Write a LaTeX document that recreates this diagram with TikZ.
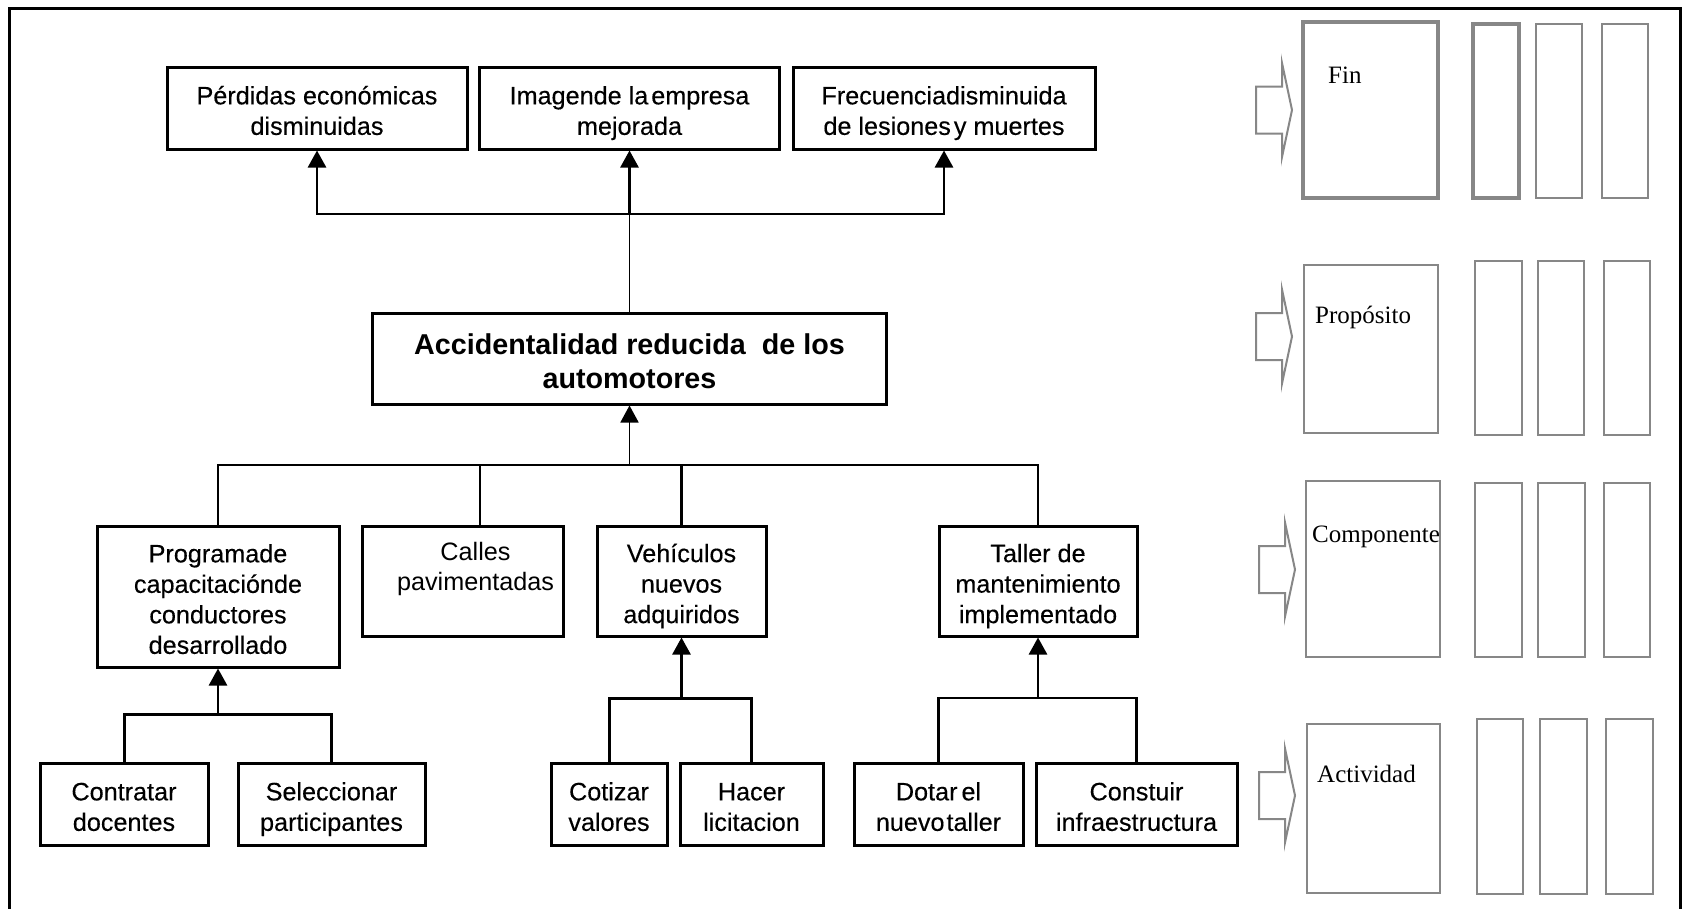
\documentclass[tikz,border=0pt]{standalone}
\usepackage{fontspec}
\setmainfont{Liberation Sans}
\newfontfamily\boxfont[FakeBold=0.3]{Liberation Sans}
\newfontfamily\serifTNR{Liberation Serif}
\usetikzlibrary{arrows.meta}
\definecolor{grayfr}{gray}{0.53}
\newcommand\tstr{\rule{0pt}{1.17em}}
\newcommand\bstr{\rule[-0.25em]{0pt}{0.25em}}
\tikzset{
  treebox/.style={draw=black, line width=3pt, rectangle, inner sep=0pt, align=center,
    font=\boxfont\fontsize{25.2}{30.5}\selectfont},
  conn/.style={line width=2.6pt},
  thinconn/.style={line width=1.8pt},
  tipup/.style={-{Triangle[width=18pt,length=17pt]}},
  grayline/.style={draw=grayfr, line width=2.4pt},
  graythick/.style={draw=grayfr, line width=3.2pt},
  graylabel/.style={font=\serifTNR\fontsize{25}{30}\selectfont, anchor=base west, inner sep=0pt},
  blockarrow/.pic={\draw[draw=grayfr, line width=2pt, fill=white, line join=miter]
    (0,-23.5) -- (26,-23.5) -- (26,-47) -- (36,0) -- (26,47) -- (26,23.5) -- (0,23.5) -- cycle;}
}
\begin{document}
\begin{tikzpicture}[x=1pt,y=-1pt]
\useasboundingbox (0,0) rectangle (1683,908);
% frame
\draw[line width=3pt] (9,912) -- (9,8) -- (1680,8) -- (1680,912);

% top row
\node[treebox, minimum width=300pt, minimum height=82pt] (p1) at (317,108) {\tstr Pérdidas económicas\\disminuidas\bstr};
\node[treebox, minimum width=300pt, minimum height=82pt] (p2) at (629.5,108) {\tstr Imagende la\hspace{3pt}empresa\\mejorada\bstr};
\node[treebox, minimum width=302pt, minimum height=82pt] (p3) at (944,108) {\tstr Frecuenciadisminuida\\de lesiones\hspace{3pt}y muertes\bstr};

% purpose
\node[treebox, font=\fontsize{28.7}{34}\selectfont\bfseries, minimum width=514pt, minimum height=91pt] (acc) at (629.5,358.5) {\rule{0pt}{25.5pt}Accidentalidad reducida\ \ de los\\automotores};

% components
\node[treebox, minimum width=242pt, minimum height=141pt] (c1) at (218,596.5) {\tstr Programade\\capacitaciónde\\conductores\\desarrollado\bstr};
\node[treebox, font=\fontsize{25.2}{30}\selectfont, minimum width=201pt, minimum height=110pt] (c2) at (462.5,581) {\hspace*{26pt}Calles\\\hspace*{26pt}pavimentadas\\\mbox{}};
\node[treebox, minimum width=169pt, minimum height=110pt] (c3) at (681.5,581) {\tstr Vehículos\\nuevos\\adquiridos\bstr};
\node[treebox, minimum width=198pt, minimum height=110pt] (c4) at (1038,581) {\tstr Taller de\\mantenimiento\\implementado\bstr};

% activities
\node[treebox, minimum width=168pt, minimum height=82pt] (a1) at (124,804) {\tstr Contratar\\docentes\bstr};
\node[treebox, minimum width=187pt, minimum height=82pt] (a2) at (331.5,804) {\tstr Seleccionar\\participantes\bstr};
\node[treebox, minimum width=116pt, minimum height=82pt] (a3) at (609,804) {\tstr Cotizar\\valores\bstr};
\node[treebox, minimum width=143pt, minimum height=82pt] (a4) at (751.5,804) {\tstr Hacer\\licitacion\bstr};
\node[treebox, minimum width=169pt, minimum height=82pt] (a5) at (938.5,804) {\tstr Dotar\hspace{4pt}el\\nuevo\hspace{2pt}taller\bstr};
\node[treebox, minimum width=201pt, minimum height=82pt] (a6) at (1136.5,804) {\tstr Constuir\\infraestructura\bstr};

% connectors top
\coordinate (j1) at (629.5,214);
\draw[thinconn] (acc.north) -- (j1);
\draw[conn,tipup] (j1) -| (p1.south);
\draw[conn,tipup] (j1) -| (p3.south);
\draw[conn,tipup] (j1) -- (p2.south);

% connectors middle
\coordinate (j2) at (629.5,465);
\draw[thinconn,tipup] (j2) -- (acc.south);
\draw[conn] (c1.north) |- (j2) -| (c4.north);
\coordinate (c2top) at ([xshift=17.5pt]c2.north);
\draw[thinconn] (c2top) -- (c2top |- j2);
\draw[conn] (c3.north) -- (c3.north |- j2);

% connectors bottom
\coordinate (k1) at (218,714);
\draw[conn,tipup] (k1) -- (c1.south);
\draw[conn, line width=3pt] (a1.north) |- (k1) -| (a2.north);
\coordinate (k2) at (681.5,698);
\draw[conn,tipup] (k2) -- (c3.south);
\draw[conn, line width=3pt] (a3.north) |- (k2) -| (a4.north);
\coordinate (k3) at (1038,698);
\draw[conn,tipup] (k3) -- (c4.south);
\draw[conn, line width=2.3pt] (a5.north) |- (k3) -| (a6.north);

% right side: logical framework columns
% row 1
\pic at (1256,110) {blockarrow};
\draw[graythick] (1303,22) rectangle (1438,198);
\draw[graythick] (1473,24) rectangle (1519,198);
\draw[grayline] (1536,24) rectangle (1582,198);
\draw[grayline] (1602,24) rectangle (1648,198);
\node[graylabel] (lfin) at (1328,83) {Fin};
% row 2
\pic at (1256,336.5) {blockarrow};
\draw[grayline] (1304,265) rectangle (1438,433);
\draw[grayline] (1475,261) rectangle (1522,435);
\draw[grayline] (1538,261) rectangle (1584,435);
\draw[grayline] (1604,261) rectangle (1650,435);
\node[graylabel] (lprop) at (1315,323) {Propósito};
% row 3
\pic at (1259,569.5) {blockarrow};
\draw[grayline] (1306,481) rectangle (1440,657);
\draw[grayline] (1475,483) rectangle (1522,657);
\draw[grayline] (1538,483) rectangle (1585,657);
\draw[grayline] (1604,483) rectangle (1650,657);
\node[graylabel] (lcomp) at (1312,542) {Componente};
% row 4
\pic at (1259,795.5) {blockarrow};
\draw[grayline] (1307,724) rectangle (1440,893);
\draw[grayline] (1477,719) rectangle (1523,894);
\draw[grayline] (1540,719) rectangle (1587,894);
\draw[grayline] (1606,719) rectangle (1653,894);
\node[graylabel] (lact) at (1317,782) {Actividad};
\end{tikzpicture}
\end{document}
